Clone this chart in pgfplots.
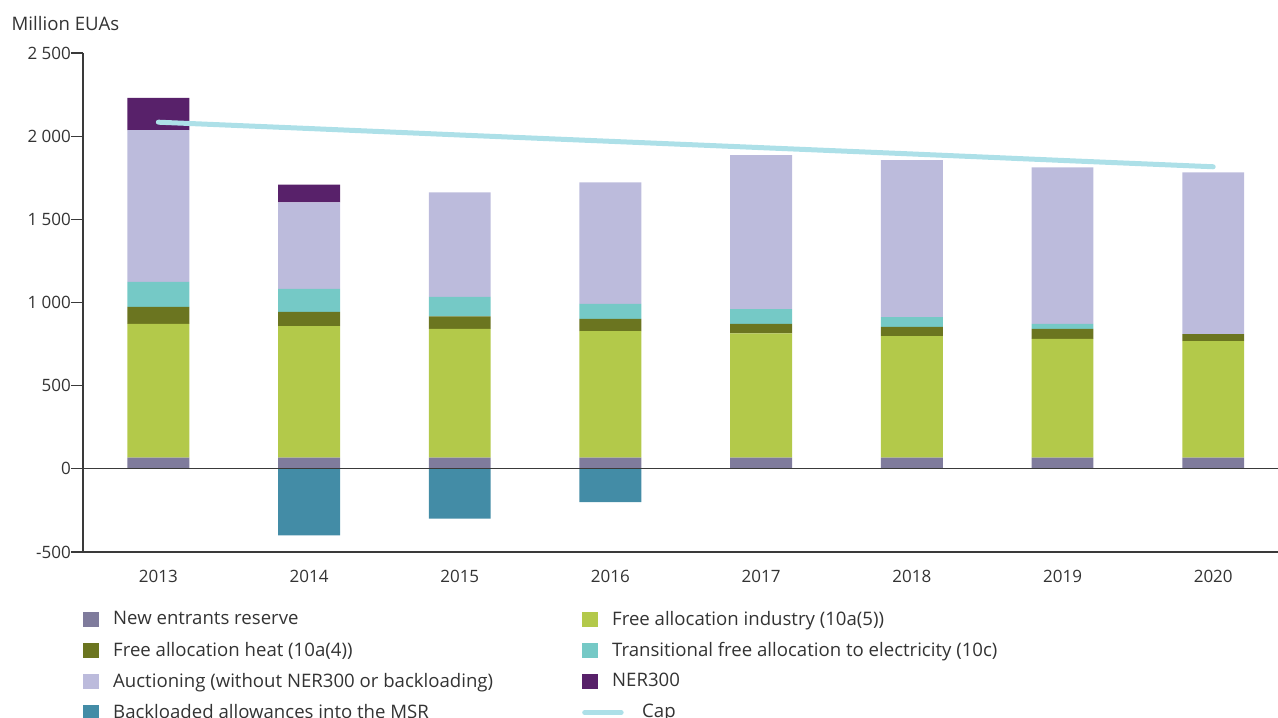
\documentclass[border=0pt]{standalone}
\usepackage{pgfplots}
\pgfplotsset{compat=1.18}
\usepackage{fontspec}
\setmainfont{Open Sans}
\definecolor{cNER}{HTML}{7F7B9C}
\definecolor{cInd}{HTML}{B3C94A}
\definecolor{cHeat}{HTML}{6B7520}
\definecolor{cTrans}{HTML}{75C9C6}
\definecolor{cAuc}{HTML}{BCBBDC}
\definecolor{cNERt}{HTML}{58216A}
\definecolor{cBack}{HTML}{438CA6}
\definecolor{cCap}{HTML}{ADE0E8}
\definecolor{cAxis}{HTML}{3A3A3A}
\definecolor{cText}{HTML}{333333}
\pgfplotsset{
  common/.style={
    width=1195pt, height=499pt, scale only axis,
    at={(83pt,166pt)}, anchor=south west,
    xmin=-0.5, xmax=7.43, ymin=-500, ymax=2500,
  },
  sqleg/.style={legend image code/.code={
    \path[draw=none, fill=none] (0pt,-8pt) rectangle (30pt,8pt);
    \fill[##1, draw=none] (0pt,-7.75pt) rectangle (15.5pt,7.75pt);}},
  capleg/.style={legend image code/.code={
    \path[draw=none, fill=none] (0pt,-8pt) rectangle (30pt,8pt);
    \draw[##1, fill=none, overlay] (2.5pt,0pt) -- (39pt,0pt);}},
}
\begin{document}
\fontsize{18.6}{22}\selectfont
\color{cText}
\begin{tikzpicture}[x=1pt,y=1pt]
\useasboundingbox (0,0) rectangle (1278,718);
\node[anchor=base west, inner sep=0pt, text=cText] at (11.5,687) {Million EUAs};
\begin{axis}[common,
  ybar stacked, bar width=0.411,
  axis x line=bottom, axis y line=left,
  axis line style={-, draw=cAxis, line width=1.2pt},
  tick align=outside, major tick length=12pt,
  ytick={-500,0,500,1000,1500,2000,2500},
  yticklabels={{-500},{0},{500},{1 000},{1 500},{2 000},{2 500}},
  xtick={0,1,2,3,4,5,6,7},
  xticklabels={2013,2014,2015,2016,2017,2018,2019,2020},
  xtick style={draw=none},
  ytick style={draw=cAxis, line width=1.2pt},
  yticklabel style={anchor=east, inner sep=0pt, text=cText},
  xticklabel style={anchor=base, inner sep=0pt, text=cText, yshift=-18pt},
  every tick label/.append style={font=\fontsize{17}{20}\selectfont},
]
\addplot[fill=cNER, draw=none] coordinates {(0,68)(1,68)(2,68)(3,68)(4,68)(5,68)(6,68)(7,68)};
\addplot[fill=cInd, draw=none] coordinates {(0,804)(1,790)(2,774)(3,760)(4,746)(5,730)(6,714)(7,700)};
\addplot[fill=cHeat, draw=none] coordinates {(0,102)(1,86)(2,74)(3,74)(4,58)(5,56)(6,60)(7,42)};
\addplot[fill=cTrans, draw=none] coordinates {(0,150)(1,138)(2,118)(3,90)(4,88)(5,58)(6,30)(7,0)};
\addplot[fill=cAuc, draw=none] coordinates {(0,912)(1,520)(2,628)(3,730)(4,926)(5,944)(6,940)(7,972)};
\addplot[fill=cNERt, draw=none] coordinates {(0,194)(1,106)(2,0)(3,0)(4,0)(5,0)(6,0)(7,0)};
\end{axis}
\begin{axis}[common, hide axis,
  legend columns=2,
  legend cell align=left,
  legend style={at={(0,0)}, anchor=north west, yshift=-59pt,
    draw=none, fill=none, inner sep=0pt, column sep=0pt, row sep=14pt,
    nodes={inner sep=0pt, text=cText},
    font=\fontsize{18.6}{22}\selectfont},
]
\addlegendimage{sqleg, fill=cNER, draw=none}
\addlegendentry{\makebox[469pt][l]{New entrants reserve}}
\addlegendimage{sqleg, fill=cInd, draw=none}
\addlegendentry{Free allocation industry (10a(5))}
\addlegendimage{sqleg, fill=cHeat, draw=none}
\addlegendentry{\makebox[469pt][l]{Free allocation heat (10a(4))}}
\addlegendimage{sqleg, fill=cTrans, draw=none}
\addlegendentry{Transitional free allocation to electricity (10c)}
\addlegendimage{sqleg, fill=cAuc, draw=none}
\addlegendentry{\makebox[469pt][l]{Auctioning (without NER300 or backloading)}}
\addlegendimage{sqleg, fill=cNERt, draw=none}
\addlegendentry{NER300}
\addplot[ybar, bar width=0.411, bar shift=0pt, fill=cBack, draw=none, sqleg]
  coordinates {(1,-400)(2,-300)(3,-200)};
\addlegendentry{\makebox[469pt][l]{Backloaded allowances into the MSR}}
\addplot[cAxis, line width=1.2pt, forget plot] coordinates {(-0.5,0)(7.43,0)};
\addplot[cCap, line width=5pt, line cap=round, mark=none, capleg]
  coordinates {(0,2084)(1,2046)(2,2007)(3,1969)(4,1931)(5,1893)(6,1854)(7,1816)};
\addlegendentry{\hspace*{30pt}Cap}
\end{axis}
\end{tikzpicture}
\end{document}
